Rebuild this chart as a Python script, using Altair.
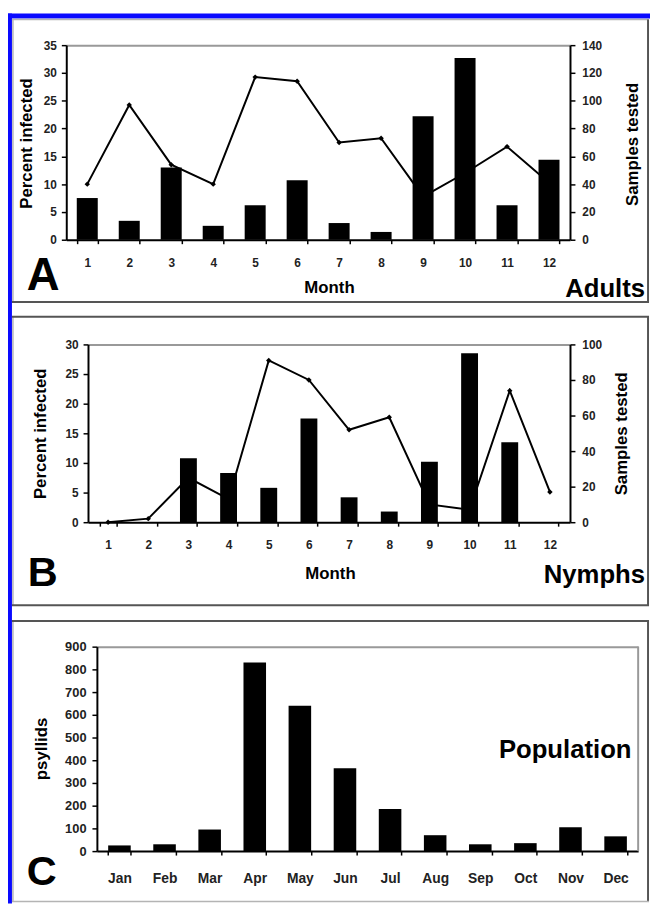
import altair as alt
import pandas as pd

FONT = "Liberation Sans"
BLUE = "#0a0aff"

months = [str(i) for i in range(1, 13)]
month_names = ["Jan", "Feb", "Mar", "Apr", "May", "Jun", "Jul", "Aug", "Sep", "Oct", "Nov", "Dec"]

adults_pct = [7.5, 3.4, 13.0, 2.5, 6.2, 10.7, 3.0, 1.4, 22.2, 32.7, 6.2, 14.4]
adults_samples = [40, 97, 54, 40, 117, 114, 70, 73, 31, 48, 67, 41]
nymphs_pct = [0, 0, 10.8, 8.3, 5.8, 17.5, 4.2, 1.8, 10.2, 28.5, 13.5, 0]
nymphs_samples = [0, 2, 25, 13, 91, 80, 52, 59, 10, 7, 74, 17]
psyllids = [25, 30, 95, 830, 640, 365, 185, 70, 30, 35, 105, 65]

ONE = pd.DataFrame({"k": [0]})
W, H = 650, 901
RIGHT = 648
LIGHT = "#b4b4b4"
DARK = "#555555"


def rule(color, width, **enc):
    return alt.Chart(ONE).mark_rule(color=color, strokeWidth=width).encode(
        **{k: alt.value(v) for k, v in enc.items()})


def rect(color, x, x2, y, y2):
    return alt.Chart(ONE).mark_rect(color=color).encode(
        x=alt.value(x), x2=alt.value(x2), y=alt.value(y), y2=alt.value(y2))


def label(t, x, y, size, align="left"):
    return alt.Chart(ONE).mark_text(text=t, font=FONT, fontSize=size, fontWeight="bold",
                                    align=align, baseline="alphabetic", color="black").encode(
        x=alt.value(x), y=alt.value(y))


def yaxis(orient, values, offset, title, tx, ty, pad, size=12, top_grid=None):
    kw = dict(orient=orient, values=values, offset=offset, title=title, titleX=tx, titleY=ty,
              titleAngle=270, titleAlign="center", titleBaseline="middle", titleFont=FONT,
              titleFontSize=17, titleFontWeight="bold", titleColor="black",
              labelFont=FONT, labelFontSize=size, labelFontWeight="bold", labelColor="#222222",
              labelPadding=pad, tickSize=5, tickColor="black", tickWidth=1.5,
              domainColor="black", domainWidth=2)
    if top_grid is not None:
        kw.update(grid=True, gridColor="#999999", gridWidth=2,
                  gridOpacity={"condition": {"test": f"datum.value == {top_grid}", "value": 1}, "value": 0})
    else:
        kw["grid"] = False
    return alt.Axis(**kw)


def xaxis(offset, title, tx, ty, size, pad):
    kw = dict(orient="bottom", offset=offset, tickBand="extent", labelAngle=0, labelFont=FONT,
              labelFontSize=size, labelFontWeight="bold", labelColor="#222222", labelPadding=pad,
              tickSize=4, tickColor="black", tickWidth=1.5, domainColor="black", domainWidth=2,
              grid=False)
    if title:
        kw.update(title=title, titleX=tx, titleY=ty, titleAlign="center", titleBaseline="alphabetic",
                  titleFont=FONT, titleFontSize=17, titleFontWeight="bold", titleColor="black")
    else:
        kw["title"] = None
    return alt.Axis(**kw)


def infection_layer(pct, samples, xr, yr, pct_max, pct_step, s_max, s_step, pad_inner,
                    loff, roff, mtx, mty, ltx, lty, rtx, rty):
    df = pd.DataFrame({"month": months, "pct": pct, "samples": samples})
    xenc = alt.X("month:N", scale=alt.Scale(domain=months, range=xr, paddingInner=pad_inner,
                                            paddingOuter=pad_inner / 2),
                 axis=xaxis(-(H - yr[0]), "Month", mtx, mty, 12, 14))
    line = alt.Chart(df).mark_line(
        color="black", strokeWidth=2,
        point=alt.OverlayMarkDef(shape="diamond", filled=True, size=30, color="black")).encode(
        x=xenc,
        y=alt.Y("samples:Q", scale=alt.Scale(domain=[0, s_max], range=yr, nice=False),
                axis=yaxis("right", list(range(0, s_max + 1, s_step)), roff, "Samples tested",
                           rtx, rty, 7)))
    bars = alt.Chart(df).mark_bar(color="black").encode(
        x=xenc,
        y=alt.Y("pct:Q", scale=alt.Scale(domain=[0, pct_max], range=yr, nice=False),
                axis=yaxis("left", list(range(0, pct_max + 1, pct_step)), loff, "Percent infected",
                           ltx, lty, 5, top_grid=pct_max)))
    return alt.layer(line, bars).resolve_scale(y="independent")


# ---- frames (decoration) ----
frames = [
    rect(BLUE, 0, 4, 0, H),
    rect(BLUE, 0, W, 0, 5),
    # panel A
    rule(LIGHT, 1.5, x=5, y=6, y2=292),
    rule(LIGHT, 1.5, x=4, x2=RIGHT + 1, y=6),
    rule(DARK, 2, x=RIGHT, y=6, y2=292),
    rule(DARK, 2, x=4, x2=RIGHT + 1, y=292),
    # panel B
    rule(LIGHT, 1.5, x=5, y=307, y2=599),
    rule(DARK, 2, x=4, x2=RIGHT + 1, y=307),
    rule(DARK, 2, x=RIGHT, y=307, y2=599),
    rule(DARK, 2, x=4, x2=RIGHT + 1, y=599),
    # panel C
    rule(LIGHT, 1.5, x=5, y=615, y2=899),
    rule(DARK, 2, x=4, x2=RIGHT + 1, y=615),
    rule(DARK, 2, x=RIGHT, y=615, y2=899),
    rule(LIGHT, 1.5, x=4, x2=RIGHT + 1, y=899),
    rule("#999999", 2, x=638, y=641, y2=848),
]

layerA = infection_layer(adults_pct, adults_samples, [59, 569], [229, 32], 35, 5, 140, 20, 0.5,
                         -59, -81, 325, 53, -40, 131, 63, 132)
layerB = infection_layer(nymphs_pct, nymphs_samples, [81, 569], [515, 335], 30, 5, 100, 20, 0.58,
                         -81, -81, 326, 57, -48, 425, 52, 425)

dfC = pd.DataFrame({"month": month_names, "psyllids": psyllids})
barsC = alt.Chart(dfC).mark_bar(color="black").encode(
    x=alt.X("month:N", scale=alt.Scale(domain=month_names, range=[90, 638], paddingInner=0.5,
                                       paddingOuter=0.25),
            axis=xaxis(-(H - 848), None, 0, 0, 14, 17)),
    y=alt.Y("psyllids:Q", scale=alt.Scale(domain=[0, 900], range=[848, 641], nice=False),
            axis=yaxis("left", list(range(0, 901, 100)), -90, "psyllids", -56, 744, 6, size=13,
                       top_grid=900)))

texts = [
    label("A", 19, 280, 46), label("Adults", 645, 287, 26, "right"),
    label("B", 20, 580, 42), label("Nymphs", 645, 577, 26, "right"),
    label("C", 19, 882, 42), label("Population", 497, 754, 26),
]

chart = alt.layer(*frames, layerA, layerB, barsC, *texts).resolve_scale(
    x="independent", y="independent"
).properties(
    width=W, height=H,
    autosize=alt.AutoSizeParams(type="none"),
    padding=0,
    background="white",
).configure_view(strokeWidth=0, fill="white")

chart.save("out.html", embed_options={"renderer": "svg", "actions": False})
